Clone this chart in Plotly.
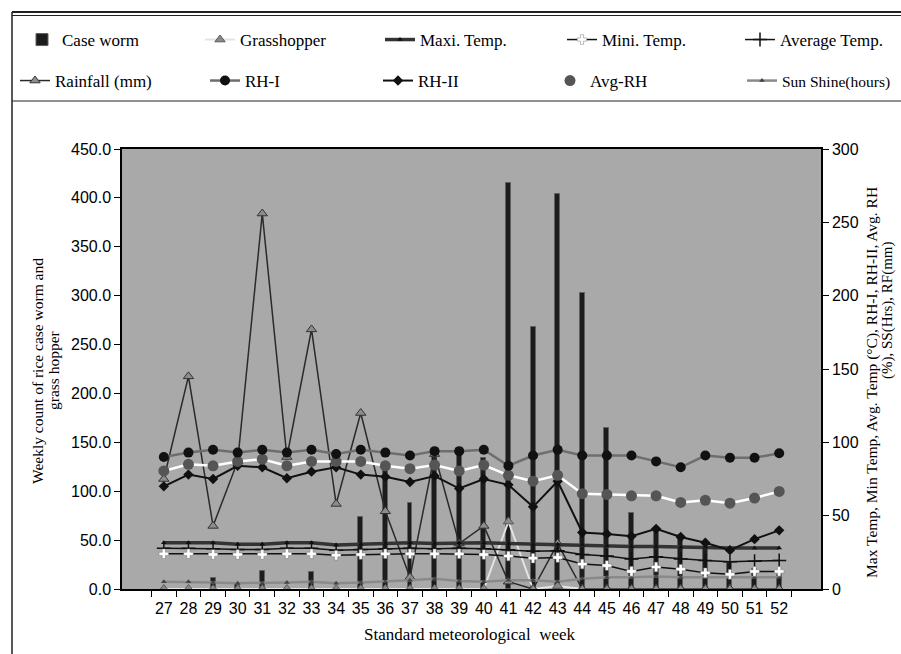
import plotly.graph_objects as go

# ---------------- data ----------------
weeks = [str(w) for w in range(27, 53)]

case_worm = [0, 0, 11, 6, 18, 0, 17, 0, 74, 127, 88, 135, 142, 134,
             415, 268, 404, 303, 165, 78, 62, 55, 42, 27, 20, 14]
grasshopper = [0, 0, 0, 0, 0, 0, 0, 0, 0, 0, 0, 0, 0, 0,
               69, 0, 3, 0, 0, 0, 0, 0, 0, 0, 0, 0]

max_temp = [31.5, 31.5, 31.5, 30.5, 30.5, 31.5, 31.5, 30.0, 30.5, 31.0, 31.5, 31.0, 31.5,
            31.5, 31.0, 30.5, 30.5, 30.0, 29.5, 29.0, 29.0, 28.5, 28.5, 28.0, 28.0, 28.0]
min_temp = [24.0, 24.0, 23.5, 23.5, 23.5, 24.0, 24.0, 23.0, 23.5, 24.0, 24.0, 24.0, 24.0,
            23.5, 22.5, 21.0, 21.5, 17.0, 16.0, 12.0, 15.0, 13.5, 11.0, 10.0, 12.0, 12.0]
avg_temp = [27.8, 27.8, 27.5, 27.0, 27.0, 27.8, 27.8, 26.5, 27.0, 27.5, 27.8, 27.5, 27.8,
            27.5, 26.8, 25.8, 26.0, 23.5, 22.5, 20.5, 22.0, 20.5, 19.5, 18.5, 19.0, 19.5]
rainfall = [75, 145, 43, 87, 256, 90, 177, 58, 120, 53, 8, 92, 31,
            43, 5, 0, 31, 0, 0, 0, 0, 0, 0, 0, 0, 0]
rh_1 = [90, 93, 95, 93, 95, 93, 95, 92, 95, 93, 91, 94, 94,
        95, 84, 91, 95, 91, 91, 91, 87, 83, 91, 89.5, 89.5, 92.5]
rh_2 = [70, 78, 75, 84, 83, 75.5, 80, 83, 78, 76.5, 73, 77, 68.5,
        75, 71, 56, 73.5, 38.5, 37.5, 36, 41, 35.5, 31.5, 26.5, 34, 40]
avg_rh = [80.5, 85, 84, 87, 88.5, 84, 87, 87, 87, 84, 82, 84.5, 80.5,
          84.5, 77.5, 73.5, 77.5, 65, 64.5, 63.5, 63.5, 59, 60.5, 58.5, 62, 66.5]
sunshine = [5, 5, 4.5, 4, 4, 4.5, 5, 4, 4.5, 5, 6, 7, 5.5,
            5, 6, 6, 5, 7, 8, 8, 8.5, 8, 8, 8, 8, 8]

left_ticks = [0, 50, 100, 150, 200, 250, 300, 350, 400, 450]
right_ticks = [0, 50, 100, 150, 200, 250, 300]

# ---------------- geometry helpers (layout only) ----------------
W, H = 901, 654
L, R, T, B = 122, 80, 149, 65
PW, PH = W - L - R, H - T - B


def px(x):
    return (x - L) / PW


def py(y):
    return (H - B - y) / PH


SERIF = "Liberation Serif"
SANS = "Liberation Sans"

fig = go.Figure()

# bars (left axis)
fig.add_bar(x=weeks, y=case_worm, name="Case worm", width=0.2,
            marker=dict(color="#1c1c1c", line=dict(color="#606060", width=1)),
            legend="legend")
fig.add_scatter(x=weeks, y=grasshopper, name="Grasshopper", mode="lines+markers",
                line=dict(color="#e4e4e4", width=2),
                marker=dict(symbol="triangle-up", size=9, color="#8a8a8a",
                            line=dict(color="#5a5a5a", width=1)),
                legend="legend6")

# right axis series
fig.add_scatter(x=weeks, y=rainfall, name="Rainfall (mm)", mode="lines+markers", yaxis="y2",
                line=dict(color="#2a2a2a", width=1.5),
                marker=dict(symbol="triangle-up", size=9, color="#8c8c8c",
                            line=dict(color="#333333", width=1)),
                legend="legend2")
fig.add_scatter(x=weeks, y=sunshine, name="Sun Shine(hours)", mode="lines+markers", yaxis="y2",
                line=dict(color="#8a8a8a", width=2.5),
                marker=dict(symbol="triangle-up", size=5, color="#444444"),
                legend="legend10")
fig.add_scatter(x=weeks, y=max_temp, name="Maxi. Temp.", mode="lines+markers", yaxis="y2",
                line=dict(color="#333333", width=3.5),
                marker=dict(symbol="triangle-up", size=5, color="#111111"),
                legend="legend3")
fig.add_scatter(x=weeks, y=avg_temp, name="Average Temp.", mode="lines+markers", yaxis="y2",
                line=dict(color="#111111", width=1.5),
                marker=dict(symbol="cross-thin", size=10, color="#111111",
                            line=dict(color="#111111", width=1.5)),
                legend="legend5")
fig.add_scatter(x=weeks, y=min_temp, name="Mini. Temp.", mode="lines+markers", yaxis="y2",
                line=dict(color="#111111", width=1.5),
                marker=dict(symbol="cross", size=8, color="#ffffff",
                            line=dict(color="#777777", width=0.5)),
                legend="legend4")
fig.add_scatter(x=weeks, y=rh_2, name="RH-II", mode="lines+markers", yaxis="y2",
                line=dict(color="#111111", width=2),
                marker=dict(symbol="diamond", size=8, color="#111111"),
                legend="legend8")
fig.add_scatter(x=weeks, y=avg_rh, name="Avg-RH line", mode="lines", yaxis="y2",
                line=dict(color="#ffffff", width=2.5), showlegend=False, hoverinfo="skip")
fig.add_scatter(x=weeks, y=avg_rh, name="Avg-RH", mode="markers", yaxis="y2",
                marker=dict(symbol="circle", size=11, color="#555555"),
                legend="legend9")
fig.add_scatter(x=weeks, y=rh_1, name="RH-I", mode="lines+markers", yaxis="y2",
                line=dict(color="#6e6e6e", width=2.5),
                marker=dict(symbol="circle", size=10, color="#111111"),
                legend="legend7")

# ---------------- legends, one per slot ----------------
row1, row2 = py(40), py(81)
slots = {
    "legend": (22, row1, 17), "legend6": (200, row1, 17), "legend3": (380, row1, 17),
    "legend4": (562, row1, 17), "legend5": (740, row1, 17),
    "legend2": (15, row2, 17), "legend7": (205, row2, 17), "legend8": (378, row2, 17),
    "legend9": (550, row2, 17), "legend10": (742, row2, 15.5),
}
legend_layout = {}
for key, (lx, ly, fs) in slots.items():
    legend_layout[key] = dict(x=px(lx), y=ly, xanchor="left", yanchor="middle",
                              orientation="h", bgcolor="rgba(0,0,0,0)", borderwidth=0,
                              font=dict(family=SERIF, size=fs, color="black"))

axis_common = dict(showgrid=False, zeroline=False, ticks="outside", ticklen=6,
                   tickcolor="black", tickwidth=1.2,
                   tickfont=dict(family=SANS, size=16, color="black"))

fig.update_layout(
    width=W, height=H,
    margin=dict(l=L, r=R, t=T, b=B, autoexpand=False),
    paper_bgcolor="white", plot_bgcolor="#a9a9a9",
    showlegend=True, bargap=0,
    xaxis=dict(type="category", categoryorder="array", categoryarray=weeks,
               tickson="boundaries", tickangle=0, ticklabelstandoff=4, showline=True,
               linecolor="black", linewidth=1.5, mirror=True, **axis_common),
    yaxis=dict(range=[0, 450], tickvals=left_ticks, tickformat=".1f",
               showline=True, linecolor="black", linewidth=1.5, **axis_common),
    yaxis2=dict(range=[0, 300], tickvals=right_ticks, overlaying="y", side="right",
                showline=True, linecolor="black", linewidth=1.5, **axis_common),
    xaxis2=dict(overlaying="x", anchor="y", type="linear", range=[-0.5, len(weeks) - 0.5],
                tickvals=[i - 0.5 for i in range(len(weeks) + 1)], ticks="inside", ticklen=6,
                tickcolor="black", tickwidth=1.2, showticklabels=False, showgrid=False,
                zeroline=False, showline=False),
    yaxis3=dict(overlaying="y", anchor="x", side="left", range=[0, 450], tickvals=left_ticks,
                ticks="inside", ticklen=6, tickcolor="black", tickwidth=1.2,
                showticklabels=False, showgrid=False, zeroline=False, showline=False),
    yaxis4=dict(overlaying="y", anchor="x", side="right", range=[0, 300], tickvals=right_ticks,
                ticks="inside", ticklen=6, tickcolor="black", tickwidth=1.2,
                showticklabels=False, showgrid=False, zeroline=False, showline=False),
    **legend_layout,
)

# ---------------- titles as annotations ----------------
ann = [
    dict(text="Weekly count of rice case worm and", x=px(37), y=py(371), textangle=-90,
         font=dict(family=SERIF, size=15.5, color="black")),
    dict(text="grass hopper", x=px(53), y=py(370), textangle=-90,
         font=dict(family=SERIF, size=15.5, color="black")),
    dict(text="Max Temp, Min Temp, Avg. Temp (°C), RH-I, RH-II, Avg. RH", x=px(872), y=py(383),
         textangle=-90, font=dict(family=SERIF, size=15.5, color="black")),
    dict(text="(%), SS(Hrs), RF(mm)", x=px(887), y=py(310), textangle=-90,
         font=dict(family=SERIF, size=15, color="black")),
    dict(text="Standard meteorological  week", x=px(470), y=py(634),
         font=dict(family=SERIF, size=17, color="black")),
]
for a in ann:
    a.update(xref="paper", yref="paper", showarrow=False, xanchor="center", yanchor="middle")
fig.update_layout(annotations=ann)

# ---------------- frame decoration ----------------
frame = [
    dict(x0=px(12), x1=px(12), y0=py(12), y1=py(654), w=1.5),
    dict(x0=px(12), x1=px(901), y0=py(12), y1=py(12), w=2),
    dict(x0=px(12), x1=px(901), y0=py(15.5), y1=py(15.5), w=1.2),
    dict(x0=px(12), x1=px(901), y0=py(101), y1=py(101), w=1.2),
]
fig.update_layout(shapes=[
    dict(type="line", xref="paper", yref="paper", x0=f["x0"], x1=f["x1"], y0=f["y0"], y1=f["y1"],
         line=dict(color="#222222", width=f["w"])) for f in frame
])

fig.write_html("out.html", config={"displayModeBar": False},
               post_script="document.body.style.margin='0';document.body.style.padding='0';")
